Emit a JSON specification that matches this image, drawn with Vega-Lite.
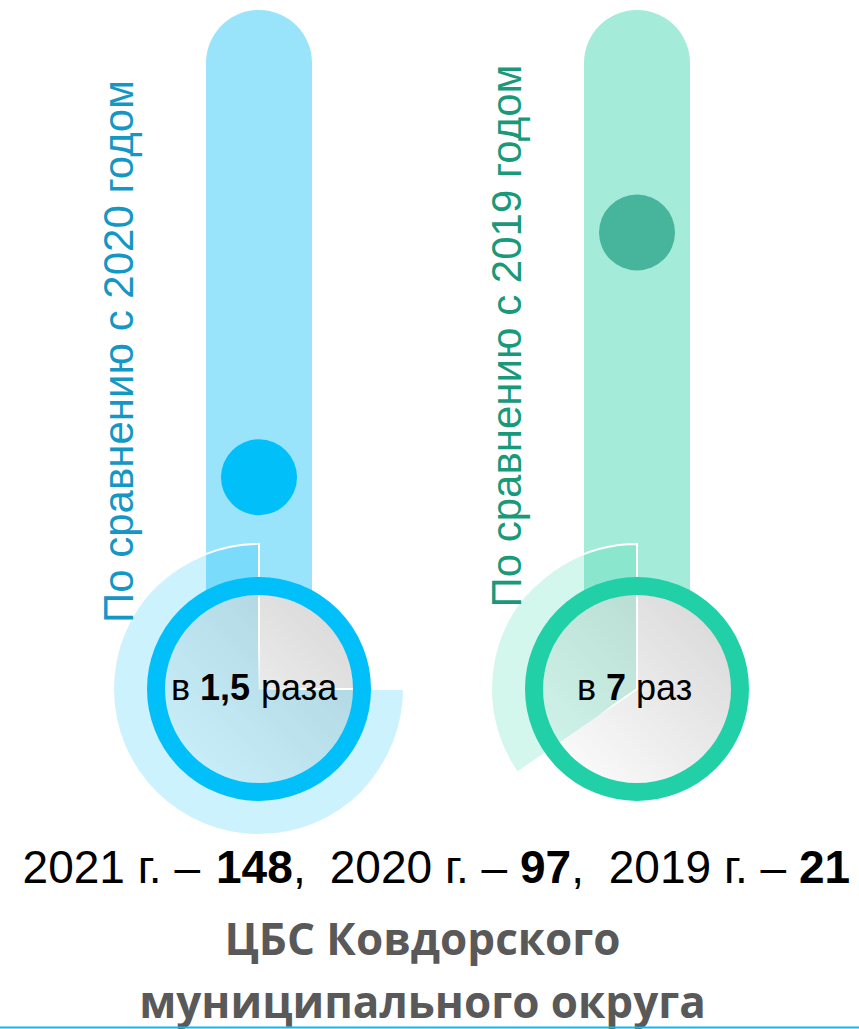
{
  "$schema": "https://vega.github.io/schema/vega-lite/v6.json",
  "width": 859,
  "height": 1029,
  "autosize": {"type": "none"},
  "padding": 0,
  "background": "white",
  "config": {"view": {"stroke": null}},
  "datasets": {
    "comparisons": [
      {"base": "2020", "ratio": 1.5, "share": 0.75, "caption": "По сравнению с 2020 годом", "prefix": "в", "num": "1,5", "unit": "раза"},
      {"base": "2019", "ratio": 7, "share": 0.346, "caption": "По сравнению с 2019 годом", "prefix": "в", "num": "7", "unit": "раз"}
    ],
    "counts": [
      {"year": "2021", "label": "2021 г. –", "value": 148},
      {"year": "2020", "label": "2020 г. –", "value": 97},
      {"year": "2019", "label": "2019 г. –", "value": 21}
    ],
    "org": [
      {"name": ["ЦБС Ковдорского", "муниципального округа"]}
    ]
  },
  "data": {"name": "comparisons"},
  "resolve": {"scale": {"x": "independent", "fill": "independent", "stroke": "independent", "color": "independent"}},
  "layer": [
    {
      "mark": {"type": "bar", "width": 106, "cornerRadiusTopLeft": 53, "cornerRadiusTopRight": 53},
      "encoding": {
        "x": {"field": "base", "type": "nominal", "scale": {"type": "point", "domain": ["2020", "2019"], "range": [259, 637], "padding": 0}, "axis": null},
        "y": {"datum": 12, "type": "quantitative", "scale": {"domain": [0, 12], "range": [544, 10], "zero": false, "nice": false}, "axis": null},
        "y2": {"datum": -1.5},
        "fill": {"field": "base", "type": "nominal", "scale": {"domain": ["2020", "2019"], "range": ["#99e4fb", "#a5ebd9"]}, "legend": null}
      }
    },
    {
      "mark": {"type": "point", "shape": "circle", "filled": true, "size": 5776, "opacity": 1, "strokeWidth": 0},
      "encoding": {
        "x": {"field": "base", "type": "nominal", "scale": {"type": "point", "domain": ["2020", "2019"], "range": [259, 637], "padding": 0}, "axis": null},
        "y": {"field": "ratio", "type": "quantitative", "scale": {"domain": [0, 12], "range": [544, 10], "zero": false, "nice": false}, "axis": null},
        "fill": {"field": "base", "type": "nominal", "scale": {"domain": ["2020", "2019"], "range": ["#00bff9", "#47b59b"]}, "legend": null}
      }
    },
    {
      "mark": {
        "type": "point", "shape": "circle", "filled": true, "size": 36100, "opacity": 1,
        "fill": {"gradient": "linear", "x1": 1, "y1": 0, "x2": 0, "y2": 1, "stops": [{"offset": 0, "color": "#d6d6d6"}, {"offset": 1, "color": "#ffffff"}]},
        "stroke": "#ffffff", "strokeWidth": 1.5, "strokeOpacity": 0.9
      },
      "encoding": {
        "x": {"field": "base", "type": "nominal", "scale": {"type": "point", "domain": ["2020", "2019"], "range": [259, 637], "padding": 0}, "axis": null},
        "y": {"datum": -3.258, "type": "quantitative", "scale": {"domain": [0, 12], "range": [544, 10], "zero": false, "nice": false}, "axis": null}
      }
    },
    {
      "mark": {
        "type": "arc", "radius": 145, "fillOpacity": 0.2, "strokeWidth": 2,
        "stroke": {"gradient": "linear", "x1": 1, "y1": 0, "x2": 0, "y2": 1, "stops": [{"offset": 0, "color": "#ffffff"}, {"offset": 0.42, "color": "#ffffff"}, {"offset": 0.52, "color": "rgba(255,255,255,0)"}, {"offset": 1, "color": "rgba(255,255,255,0)"}]}
      },
      "encoding": {
        "x": {"field": "base", "type": "nominal", "scale": {"type": "point", "domain": ["2020", "2019"], "range": [259, 637], "padding": 0}, "axis": null},
        "y": {"datum": -3.258, "type": "quantitative", "scale": {"domain": [0, 12], "range": [544, 10], "zero": false, "nice": false}, "axis": null},
        "theta": {"field": "share", "type": "quantitative", "stack": null, "scale": {"domain": [0, 1], "range": [6.2832, 0]}},
        "fill": {"field": "base", "type": "nominal", "scale": {"domain": ["2020", "2019"], "range": ["#00bff9", "#21d0a6"]}, "legend": null}
      }
    },
    {
      "mark": {"type": "point", "shape": "circle", "filled": false, "size": 42436, "strokeWidth": 18, "opacity": 1},
      "encoding": {
        "x": {"field": "base", "type": "nominal", "scale": {"type": "point", "domain": ["2020", "2019"], "range": [259, 637], "padding": 0}, "axis": null},
        "y": {"datum": -3.258, "type": "quantitative", "scale": {"domain": [0, 12], "range": [544, 10], "zero": false, "nice": false}, "axis": null},
        "stroke": {"field": "base", "type": "nominal", "scale": {"domain": ["2020", "2019"], "range": ["#00bff9", "#21d0a6"]}, "legend": null}
      }
    },
    {
      "transform": [{"filter": "datum.base === '2020'"}],
      "mark": {"type": "text", "angle": 270, "align": "center", "baseline": "alphabetic", "font": "Liberation Sans", "fontSize": 42, "dx": -7.5, "dy": -126, "color": "#1597c6"},
      "encoding": {
        "x": {"field": "base", "type": "nominal", "scale": {"type": "point", "domain": ["2020", "2019"], "range": [259, 637], "padding": 0}, "axis": null},
        "y": {"datum": 4.4944, "type": "quantitative", "scale": {"domain": [0, 12], "range": [544, 10], "zero": false, "nice": false}, "axis": null},
        "text": {"field": "caption", "type": "nominal"}
      }
    },
    {
      "transform": [{"filter": "datum.base === '2019'"}],
      "mark": {"type": "text", "angle": 270, "align": "center", "baseline": "alphabetic", "font": "Liberation Sans", "fontSize": 42, "dx": 8, "dy": -116, "color": "#189a7a"},
      "encoding": {
        "x": {"field": "base", "type": "nominal", "scale": {"type": "point", "domain": ["2020", "2019"], "range": [259, 637], "padding": 0}, "axis": null},
        "y": {"datum": 4.4944, "type": "quantitative", "scale": {"domain": [0, 12], "range": [544, 10], "zero": false, "nice": false}, "axis": null},
        "text": {"field": "caption", "type": "nominal"}
      }
    },
    {
      "transform": [{"filter": "datum.base === '2020'"}],
      "mark": {"type": "text", "align": "right", "baseline": "middle", "font": "Liberation Sans", "fontSize": 36, "dx": -69, "color": "#000000"},
      "encoding": {
        "x": {"field": "base", "type": "nominal", "scale": {"type": "point", "domain": ["2020", "2019"], "range": [259, 637], "padding": 0}, "axis": null},
        "y": {"datum": -3.258, "type": "quantitative", "scale": {"domain": [0, 12], "range": [544, 10], "zero": false, "nice": false}, "axis": null},
        "text": {"field": "prefix", "type": "nominal"}
      }
    },
    {
      "transform": [{"filter": "datum.base === '2020'"}],
      "mark": {"type": "text", "align": "left", "baseline": "middle", "font": "Liberation Sans", "fontSize": 36, "fontWeight": "bold", "dx": -59, "color": "#000000"},
      "encoding": {
        "x": {"field": "base", "type": "nominal", "scale": {"type": "point", "domain": ["2020", "2019"], "range": [259, 637], "padding": 0}, "axis": null},
        "y": {"datum": -3.258, "type": "quantitative", "scale": {"domain": [0, 12], "range": [544, 10], "zero": false, "nice": false}, "axis": null},
        "text": {"field": "num", "type": "nominal"}
      }
    },
    {
      "transform": [{"filter": "datum.base === '2020'"}],
      "mark": {"type": "text", "align": "left", "baseline": "middle", "font": "Liberation Sans", "fontSize": 36, "dx": 2, "color": "#000000"},
      "encoding": {
        "x": {"field": "base", "type": "nominal", "scale": {"type": "point", "domain": ["2020", "2019"], "range": [259, 637], "padding": 0}, "axis": null},
        "y": {"datum": -3.258, "type": "quantitative", "scale": {"domain": [0, 12], "range": [544, 10], "zero": false, "nice": false}, "axis": null},
        "text": {"field": "unit", "type": "nominal"}
      }
    },
    {
      "transform": [{"filter": "datum.base === '2019'"}],
      "mark": {"type": "text", "align": "right", "baseline": "middle", "font": "Liberation Sans", "fontSize": 36, "dx": -41, "color": "#000000"},
      "encoding": {
        "x": {"field": "base", "type": "nominal", "scale": {"type": "point", "domain": ["2020", "2019"], "range": [259, 637], "padding": 0}, "axis": null},
        "y": {"datum": -3.258, "type": "quantitative", "scale": {"domain": [0, 12], "range": [544, 10], "zero": false, "nice": false}, "axis": null},
        "text": {"field": "prefix", "type": "nominal"}
      }
    },
    {
      "transform": [{"filter": "datum.base === '2019'"}],
      "mark": {"type": "text", "align": "left", "baseline": "middle", "font": "Liberation Sans", "fontSize": 36, "fontWeight": "bold", "dx": -31, "color": "#000000"},
      "encoding": {
        "x": {"field": "base", "type": "nominal", "scale": {"type": "point", "domain": ["2020", "2019"], "range": [259, 637], "padding": 0}, "axis": null},
        "y": {"datum": -3.258, "type": "quantitative", "scale": {"domain": [0, 12], "range": [544, 10], "zero": false, "nice": false}, "axis": null},
        "text": {"field": "num", "type": "nominal"}
      }
    },
    {
      "transform": [{"filter": "datum.base === '2019'"}],
      "mark": {"type": "text", "align": "left", "baseline": "middle", "font": "Liberation Sans", "fontSize": 36, "dx": -1, "color": "#000000"},
      "encoding": {
        "x": {"field": "base", "type": "nominal", "scale": {"type": "point", "domain": ["2020", "2019"], "range": [259, 637], "padding": 0}, "axis": null},
        "y": {"datum": -3.258, "type": "quantitative", "scale": {"domain": [0, 12], "range": [544, 10], "zero": false, "nice": false}, "axis": null},
        "text": {"field": "unit", "type": "nominal"}
      }
    },
    {
      "data": {"name": "counts"},
      "transform": [{"filter": "datum.year === '2021'"}],
      "mark": {"type": "text", "align": "right", "baseline": "alphabetic", "font": "Liberation Sans", "fontSize": 46, "dx": -16, "color": "#000000"},
      "encoding": {
        "x": {"field": "year", "type": "nominal", "scale": {"type": "point", "domain": ["2021", "2020", "2019"], "range": [216, 799], "padding": 0}, "axis": null},
        "y": {"datum": -7.618, "type": "quantitative", "scale": {"domain": [0, 12], "range": [544, 10], "zero": false, "nice": false}, "axis": null},
        "text": {"field": "label", "type": "nominal"}
      }
    },
    {
      "data": {"name": "counts"},
      "transform": [{"filter": "datum.year === '2020'"}],
      "mark": {"type": "text", "align": "right", "baseline": "alphabetic", "font": "Liberation Sans", "fontSize": 46, "dx": -0.3, "color": "#000000"},
      "encoding": {
        "x": {"field": "year", "type": "nominal", "scale": {"type": "point", "domain": ["2021", "2020", "2019"], "range": [216, 799], "padding": 0}, "axis": null},
        "y": {"datum": -7.618, "type": "quantitative", "scale": {"domain": [0, 12], "range": [544, 10], "zero": false, "nice": false}, "axis": null},
        "text": {"field": "label", "type": "nominal"}
      }
    },
    {
      "data": {"name": "counts"},
      "transform": [{"filter": "datum.year === '2019'"}],
      "mark": {"type": "text", "align": "right", "baseline": "alphabetic", "font": "Liberation Sans", "fontSize": 46, "dx": -12.8, "color": "#000000"},
      "encoding": {
        "x": {"field": "year", "type": "nominal", "scale": {"type": "point", "domain": ["2021", "2020", "2019"], "range": [216, 799], "padding": 0}, "axis": null},
        "y": {"datum": -7.618, "type": "quantitative", "scale": {"domain": [0, 12], "range": [544, 10], "zero": false, "nice": false}, "axis": null},
        "text": {"field": "label", "type": "nominal"}
      }
    },
    {
      "data": {"name": "counts"},
      "transform": [{"filter": "datum.year !== '2020'"}],
      "mark": {"type": "text", "align": "left", "baseline": "alphabetic", "font": "Liberation Sans", "fontSize": 46, "fontWeight": "bold", "color": "#000000"},
      "encoding": {
        "x": {"field": "year", "type": "nominal", "scale": {"type": "point", "domain": ["2021", "2020", "2019"], "range": [216, 799], "padding": 0}, "axis": null},
        "y": {"datum": -7.618, "type": "quantitative", "scale": {"domain": [0, 12], "range": [544, 10], "zero": false, "nice": false}, "axis": null},
        "text": {"field": "value", "type": "quantitative"}
      }
    },
    {
      "data": {"name": "counts"},
      "transform": [{"filter": "datum.year === '2020'"}],
      "mark": {"type": "text", "align": "left", "baseline": "alphabetic", "font": "Liberation Sans", "fontSize": 46, "fontWeight": "bold", "dx": 12.5, "color": "#000000"},
      "encoding": {
        "x": {"field": "year", "type": "nominal", "scale": {"type": "point", "domain": ["2021", "2020", "2019"], "range": [216, 799], "padding": 0}, "axis": null},
        "y": {"datum": -7.618, "type": "quantitative", "scale": {"domain": [0, 12], "range": [544, 10], "zero": false, "nice": false}, "axis": null},
        "text": {"field": "value", "type": "quantitative"}
      }
    },
    {
      "data": {"name": "counts"},
      "transform": [{"filter": "datum.year === '2021'"}],
      "mark": {"type": "text", "text": ",", "align": "left", "baseline": "alphabetic", "font": "Liberation Sans", "fontSize": 46, "dx": 77, "color": "#000000"},
      "encoding": {
        "x": {"field": "year", "type": "nominal", "scale": {"type": "point", "domain": ["2021", "2020", "2019"], "range": [216, 799], "padding": 0}, "axis": null},
        "y": {"datum": -7.618, "type": "quantitative", "scale": {"domain": [0, 12], "range": [544, 10], "zero": false, "nice": false}, "axis": null}
      }
    },
    {
      "data": {"name": "counts"},
      "transform": [{"filter": "datum.year === '2020'"}],
      "mark": {"type": "text", "text": ",", "align": "left", "baseline": "alphabetic", "font": "Liberation Sans", "fontSize": 46, "dx": 63.8, "color": "#000000"},
      "encoding": {
        "x": {"field": "year", "type": "nominal", "scale": {"type": "point", "domain": ["2021", "2020", "2019"], "range": [216, 799], "padding": 0}, "axis": null},
        "y": {"datum": -7.618, "type": "quantitative", "scale": {"domain": [0, 12], "range": [544, 10], "zero": false, "nice": false}, "axis": null}
      }
    },
    {
      "data": {"name": "org"},
      "mark": {"type": "text", "align": "center", "baseline": "alphabetic", "font": "Open Sans", "fontWeight": "bold", "fontSize": 44, "lineHeight": 63, "color": "#595959", "x": {"expr": "width / 2"}, "dx": -7},
      "encoding": {
        "y": {"datum": -9.236, "type": "quantitative", "scale": {"domain": [0, 12], "range": [544, 10], "zero": false, "nice": false}, "axis": null},
        "text": {"field": "name", "type": "nominal"}
      }
    },
    {
      "data": {"name": "org"},
      "mark": {"type": "rule", "color": "#00bff9", "strokeWidth": 2},
      "encoding": {
        "y": {"datum": -10.865, "type": "quantitative", "scale": {"domain": [0, 12], "range": [544, 10], "zero": false, "nice": false}, "axis": null}
      }
    }
  ]
}
